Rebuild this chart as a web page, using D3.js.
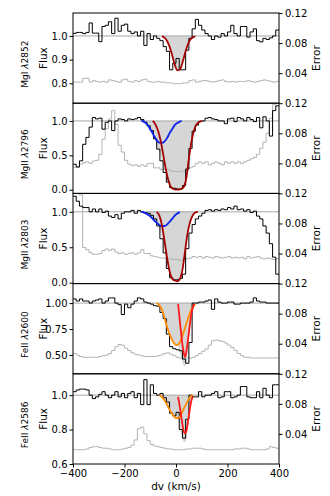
<!DOCTYPE html>
<html>
<head>
<meta charset="utf-8">
<script src="https://cdn.jsdelivr.net/npm/d3@7"></script>
<style>
  body { margin: 0; background: #fff; }
  text { font-family: "DejaVu Sans", sans-serif; }
</style>
</head>
<body>
<svg id="chart" width="330" height="496"></svg>
<script>
// velocity grid: 64 pixels of 12.5 km/s, bin centres
var vel = d3.range(64).map(function (i) { return -393.75 + 12.5 * i; });

var ions = ['MgI', 'MgII', 'MgII', 'FeII', 'FeII'];
var waves = ['2852', '2796', '2803', '2600', '2586'];

var flux2852 = [1.011,1.015,1.015,1.01,1.015,1.055,1.012,1.012,0.976,1.04,
  1.045,1.06,1.01,1.075,1.02,1.045,1.05,1.02,1.01,1.017,
  1.0,1.02,0.96,1.01,0.985,1.0,0.99,0.98,0.955,0.935,
  0.857,0.885,0.905,0.857,0.857,0.94,0.99,1.03,1.07,1.045,
  1.025,1.01,1.0,0.985,1.0,0.995,1.01,1.0,1.017,1.045,
  1.01,1.0,1.04,1.04,0.995,1.017,1.03,0.98,0.975,0.99,
  0.985,0.992,1.0,1.025];
var err2852 = [0.028,0.028,0.028,0.033,0.033,0.028,0.030,0.029,0.028,0.029,
  0.028,0.031,0.030,0.029,0.028,0.031,0.032,0.029,0.028,0.030,
  0.029,0.031,0.032,0.029,0.028,0.028,0.029,0.028,0.028,0.027,
  0.027,0.026,0.026,0.026,0.027,0.027,0.030,0.031,0.028,0.029,
  0.030,0.030,0.029,0.028,0.029,0.030,0.031,0.029,0.028,0.029,
  0.028,0.029,0.029,0.029,0.030,0.029,0.028,0.029,0.030,0.031,
  0.030,0.029,0.028,0.029];

var flux2796 = [0.37,0.33,0.42,0.66,0.76,0.91,1.05,1.03,1.04,0.88,
  0.98,1.0,0.86,1.0,1.03,1.02,1.0,1.03,1.02,1.03,
  1.05,1.02,0.98,0.93,0.86,0.74,0.59,0.42,0.25,0.11,
  0.03,0.02,0.01,0.01,0.06,0.30,0.60,0.85,0.94,0.99,
  1.0,1.04,1.05,1.03,1.02,1.0,1.0,0.96,1.03,1.04,
  0.99,1.05,1.03,1.0,1.05,1.02,0.99,1.05,0.9,1.06,
  1.0,0.78,1.15,1.22];
var err2796 = [0.035,0.035,0.039,0.041,0.042,0.040,0.043,0.044,0.052,0.072,
  0.086,0.099,0.110,0.092,0.064,0.055,0.044,0.039,0.037,0.038,
  0.036,0.038,0.036,0.040,0.040,0.034,0.034,0.032,0.032,0.032,
  0.030,0.029,0.029,0.029,0.030,0.032,0.034,0.036,0.040,0.042,
  0.040,0.042,0.038,0.040,0.042,0.040,0.038,0.042,0.040,0.042,
  0.040,0.042,0.040,0.042,0.044,0.046,0.048,0.052,0.060,0.068,
  0.080,0.100,0.118,0.130];

var flux2803 = [1.22,1.15,1.08,1.06,1.06,1.00,1.04,1.00,1.04,0.99,
  1.01,0.94,0.92,0.96,0.90,0.98,1.00,1.00,1.02,0.98,
  1.02,1.00,0.99,0.98,0.95,0.90,0.80,0.62,0.42,0.20,
  0.07,0.04,0.04,0.06,0.12,0.48,0.70,0.82,0.90,0.94,
  0.98,1.02,1.03,1.01,1.03,1.02,1.04,1.03,1.06,1.04,
  1.08,1.03,1.04,1.01,1.03,0.99,1.01,0.94,0.90,0.80,
  0.70,0.55,0.36,0.12];
var err2803 = [0.125,0.125,0.118,0.048,0.045,0.041,0.039,0.039,0.040,0.044,
  0.046,0.044,0.046,0.042,0.040,0.041,0.039,0.040,0.041,0.039,
  0.041,0.045,0.040,0.040,0.037,0.036,0.035,0.034,0.034,0.033,
  0.033,0.032,0.032,0.031,0.032,0.033,0.034,0.036,0.035,0.036,
  0.034,0.036,0.035,0.034,0.036,0.035,0.034,0.035,0.036,0.034,
  0.035,0.034,0.035,0.033,0.036,0.034,0.035,0.036,0.034,0.033,
  0.034,0.033,0.032,0.033];

var flux2600 = [1.04,1.02,1.04,1.02,1.02,1.0,1.02,1.03,1.04,1.0,
  1.02,1.05,1.05,1.0,0.985,0.89,0.99,0.955,0.99,1.02,
  1.05,1.04,1.01,1.0,0.99,0.975,0.97,0.91,0.85,0.70,
  0.58,0.56,0.55,0.54,0.46,0.42,0.62,1.0,1.0,1.01,
  1.01,1.02,1.03,0.94,1.04,1.01,1.0,1.0,1.01,1.01,
  0.99,0.99,1.0,1.0,1.0,1.01,1.05,1.02,1.01,1.01,
  1.0,1.0,1.0,1.0];
var err2600 = [0.027,0.025,0.023,0.022,0.022,0.022,0.022,0.022,0.023,0.024,
  0.025,0.027,0.031,0.036,0.039,0.038,0.034,0.031,0.028,0.026,
  0.025,0.024,0.023,0.023,0.023,0.023,0.024,0.025,0.027,0.028,
  0.026,0.024,0.022,0.021,0.021,0.021,0.021,0.022,0.024,0.027,
  0.030,0.033,0.038,0.044,0.045,0.044,0.043,0.041,0.038,0.035,
  0.031,0.027,0.024,0.022,0.022,0.021,0.021,0.021,0.021,0.021,
  0.021,0.021,0.021,0.021];

var flux2586 = [1.02,1.03,1.035,1.035,1.03,1.0,0.98,0.99,1.005,1.02,
  1.0,0.985,1.0,1.02,0.99,1.01,0.985,1.01,1.02,0.985,
  1.01,0.945,1.09,0.945,1.06,1.01,1.0,1.01,0.985,0.96,
  0.895,0.88,0.90,0.80,0.75,0.86,1.0,0.99,0.99,1.02,
  0.99,1.0,1.0,1.01,1.02,0.985,0.99,1.02,1.02,0.985,
  0.99,1.0,1.05,1.05,0.99,0.985,0.985,1.02,0.985,1.04,
  1.0,0.985,1.06,1.06];
var err2586 = [0.019,0.019,0.019,0.019,0.020,0.022,0.023,0.023,0.022,0.021,
  0.021,0.020,0.019,0.019,0.019,0.020,0.021,0.022,0.025,0.032,
  0.047,0.049,0.040,0.031,0.026,0.024,0.023,0.022,0.021,0.020,
  0.020,0.019,0.019,0.019,0.019,0.020,0.020,0.021,0.021,0.021,
  0.020,0.019,0.019,0.019,0.019,0.019,0.019,0.019,0.019,0.019,
  0.020,0.020,0.021,0.021,0.020,0.019,0.019,0.019,0.019,0.019,
  0.020,0.023,0.022,0.021];

// fitted components (velocity, normalised flux)
var mg1V = [-55,-45,-35,-25,-15,-5,5,15,25,35,45,55,65,75];
var mg1F = [0.998,0.993,0.980,0.955,0.919,0.880,0.855,0.858,0.887,0.927,0.961,0.984,0.994,0.998];

var mg2BlueV = [-135,-125,-115,-105,-95,-85,-75,-65,-55,-45,-35,-25,-15,-5,5,15,22];
var mg2BlueF = [1.0,0.99,0.96,0.91,0.85,0.78,0.72,0.685,0.68,0.70,0.75,0.82,0.88,0.94,0.97,0.99,1.0];
var mg2RedV = [-90,-80,-70,-60,-50,-40,-30,-20,-10,0,10,20,30,40,50,60,70,80,90,100];
var mg2RedF = [1.0,0.95,0.86,0.72,0.52,0.31,0.14,0.04,0.01,0.0,0.0,0.01,0.04,0.17,0.45,0.70,0.86,0.95,0.985,1.0];
var mg2TotV = [-140,-130,-120,-110,-100,-90,-80,-70,-60,-50,-40,-30,-20,-10,0,10,20,30,40,50,60,70,80,90,100];
var mg2TotF = [1.0,0.995,0.975,0.94,0.88,0.815,0.71,0.60,0.49,0.36,0.22,0.11,0.03,0.01,0.0,0.0,0.01,0.04,0.17,0.45,0.70,0.86,0.95,0.985,1.0];

var mg3BlueV = [-135,-125,-115,-105,-95,-85,-75,-65,-55,-45,-35,-25,-15,-5,5,15];
var mg3BlueF = [1.0,0.99,0.975,0.95,0.92,0.88,0.845,0.815,0.80,0.80,0.82,0.86,0.90,0.945,0.975,0.995];
var mg3RedV = [-75,-65,-55,-45,-35,-25,-15,-5,5,15,25,35,45,55,65,75,85];
var mg3RedF = [1.0,0.95,0.82,0.60,0.36,0.16,0.06,0.03,0.02,0.05,0.18,0.44,0.70,0.86,0.95,0.99,1.0];
var mg3TotV = [-140,-130,-120,-110,-100,-90,-80,-70,-60,-50,-40,-30,-20,-10,0,10,20,30,40,50,60,70,80,90];
var mg3TotF = [1.0,0.995,0.985,0.965,0.935,0.90,0.86,0.81,0.72,0.57,0.39,0.22,0.09,0.04,0.024,0.03,0.10,0.30,0.58,0.78,0.91,0.97,0.995,1.0];

var fe1OrV = [-75,-65,-55,-45,-35,-25,-15,-5,5,15,25,35,45,55,65,75];
var fe1OrF = [1.0,0.98,0.94,0.86,0.775,0.70,0.645,0.605,0.595,0.62,0.685,0.76,0.84,0.91,0.96,0.99];
var fe1RedV = [8,12,16,20,24,28,32,35,38,42,46,50,54,58,62,66,70];
var fe1RedF = [0.99,0.90,0.80,0.71,0.62,0.55,0.50,0.48,0.50,0.56,0.64,0.72,0.80,0.87,0.93,0.96,0.99];
var fe1TotV = [-80,-75,-70,-65,-60,-55,-50,-45,-40,-35,-30,-25,-20,-15,-10,-5,0,5,10,15,20,25,30,35,40,45,50,55,60,65,70,75,80];
var fe1TotF = [1.0,1.0,0.99,0.98,0.97,0.94,0.90,0.86,0.82,0.775,0.73,0.70,0.67,0.645,0.62,0.605,0.595,0.595,0.57,0.52,0.47,0.43,0.40,0.39,0.43,0.52,0.63,0.74,0.84,0.91,0.96,0.99,1.0];

var fe2OrV = [-65,-55,-45,-35,-25,-15,-5,5,15,25,35,45,55,65];
var fe2OrF = [1.0,0.99,0.97,0.945,0.915,0.89,0.872,0.866,0.875,0.905,0.935,0.965,0.99,1.0];
var fe2RedV = [8,15,20,25,30,35,40,45,50,55,60,65];
var fe2RedF = [0.99,0.93,0.88,0.83,0.79,0.778,0.79,0.83,0.88,0.93,0.97,0.99];
var fe2TotV = [-65,-60,-55,-50,-45,-40,-35,-30,-25,-20,-15,-10,-5,0,5,10,15,20,25,30,35,40,45,50,55,60,65,70];
var fe2TotF = [1.0,0.995,0.99,0.98,0.97,0.957,0.945,0.93,0.915,0.90,0.89,0.88,0.872,0.868,0.866,0.85,0.81,0.78,0.75,0.73,0.727,0.75,0.80,0.86,0.92,0.97,0.99,1.0];

var fluxTicks = [[0.8,0.9,1.0],[0.0,0.5,1.0],[0.0,0.5,1.0],[0.5,0.75,1.0],[0.6,0.8,1.0]];
var errTicks = [0.04, 0.08, 0.12];
var velTicks = [-400, -200, 0, 200, 400];

var panels = [
  {flux: flux2852, err: err2852, dom: [0.716, 1.097], fmt: '.1f', totV: mg1V, totF: mg1F,
    comps: [{v: mg1V, f: mg1F, color: '#a50000'}]},
  {flux: flux2796, err: err2796, dom: [-0.054, 1.258], fmt: '.1f', totV: mg2TotV, totF: mg2TotF,
    comps: [{v: mg2BlueV, f: mg2BlueF, color: '#0a22ee'}, {v: mg2RedV, f: mg2RedF, color: '#a50000'}]},
  {flux: flux2803, err: err2803, dom: [-0.013, 1.26], fmt: '.1f', totV: mg3TotV, totF: mg3TotF,
    comps: [{v: mg3BlueV, f: mg3BlueF, color: '#0a22ee'}, {v: mg3RedV, f: mg3RedF, color: '#a50000'}]},
  {flux: flux2600, err: err2600, dom: [0.318, 1.188], fmt: '.2f', totV: fe1TotV, totF: fe1TotF,
    comps: [{v: fe1OrV, f: fe1OrF, color: '#ff8c00'}, {v: fe1RedV, f: fe1RedF, color: '#ff1a1a'}]},
  {flux: flux2586, err: err2586, dom: [0.6, 1.124], fmt: '.1f', totV: fe2TotV, totF: fe2TotF,
    comps: [{v: fe2OrV, f: fe2OrF, color: '#ff8c00'}, {v: fe2RedV, f: fe2RedF, color: '#ff1a1a'}]}
];

var svg = d3.select('#chart');
var left = 73, right = 279, top0 = 13, ph = 90.2;

var x = d3.scaleLinear().domain([-400, 400]).range([left, right]);

// step points with the outer half bins added
function stepPts(vals) {
  var pts = vals.map(function (d, i) { return [vel[i], d]; });
  pts.unshift([-400, vals[0]]);
  pts.push([400, vals[vals.length - 1]]);
  return pts;
}

panels.forEach(function (p, k) {
  var top = top0 + k * ph, bot = top + ph;
  var y = d3.scaleLinear().domain(p.dom).range([bot, top]);
  var ye = d3.scaleLinear().domain([0, 0.12]).range([bot, top]);

  svg.append('clipPath').attr('id', 'clip' + k)
    .append('rect').attr('x', left).attr('y', top).attr('width', right - left).attr('height', ph);

  var g = svg.append('g').attr('clip-path', 'url(#clip' + k + ')');

  // absorption area between continuum and total model
  var area = d3.area()
    .x(function (d, i) { return x(p.totV[i]); })
    .y0(y(1))
    .y1(function (d) { return y(d); })
    .curve(d3.curveMonotoneX);
  g.append('path').datum(p.totF).attr('d', area).attr('fill', '#d6d6d6');

  // error spectrum
  var stepLine = function (sc) {
    return d3.line().x(function (d) { return x(d[0]); }).y(function (d) { return sc(d[1]); }).curve(d3.curveStep);
  };
  g.append('path').datum(stepPts(p.err)).attr('d', stepLine(ye))
    .attr('fill', 'none').attr('stroke', '#b3b3b3').attr('stroke-width', 1);

  // continuum
  g.append('line').attr('x1', x(-400)).attr('x2', x(400)).attr('y1', y(1)).attr('y2', y(1))
    .attr('stroke', '#a6a6a6').attr('stroke-width', 1);

  // flux
  g.append('path').datum(stepPts(p.flux)).attr('d', stepLine(y))
    .attr('fill', 'none').attr('stroke', '#000').attr('stroke-width', 1);

  // components
  p.comps.forEach(function (c) {
    var line = d3.line()
      .x(function (d, i) { return x(c.v[i]); })
      .y(function (d) { return y(d); })
      .curve(d3.curveMonotoneX);
    g.append('path').datum(c.f).attr('d', line)
      .attr('fill', 'none').attr('stroke', c.color).attr('stroke-width', 1.8);
  });

  // frame
  svg.append('rect').attr('x', left).attr('y', top).attr('width', right - left).attr('height', ph)
    .attr('fill', 'none').attr('stroke', '#000').attr('stroke-width', 1);

  var ax = svg.append('g').attr('transform', 'translate(' + left + ',0)')
    .call(d3.axisLeft(y).tickValues(fluxTicks[k]).tickFormat(d3.format(p.fmt)).tickSize(3.5).tickPadding(2));
  ax.select('.domain').remove();
  ax.selectAll('text').attr('font-size', 10).attr('font-family', '"DejaVu Sans", sans-serif').attr('fill', '#000');

  var ar = svg.append('g').attr('transform', 'translate(' + right + ',0)')
    .call(d3.axisRight(ye).tickValues(errTicks).tickFormat(d3.format('.2f')).tickSize(3.5).tickPadding(2.5));
  ar.select('.domain').remove();
  ar.selectAll('text').attr('font-size', 10).attr('font-family', '"DejaVu Sans", sans-serif').attr('fill', '#000');

  var mid = top + ph / 2;
  var ion = svg.append('text')
    .attr('transform', 'translate(25,' + (mid + 6) + ') rotate(-90)')
    .attr('dy', '0.35em').attr('text-anchor', 'middle').attr('font-size', 9);
  ion.append('tspan').text(ions[k] + ' ');
  ion.append('tspan').attr('font-style', 'italic').text('λ');
  ion.append('tspan').text(waves[k]);

  svg.append('text')
    .attr('transform', 'translate(43.5,' + mid + ') rotate(-90)')
    .attr('dy', '0.35em').attr('text-anchor', 'middle').attr('font-size', 10.5)
    .text('Flux');

  svg.append('text')
    .attr('transform', 'translate(316,' + mid + ') rotate(-90)')
    .attr('dy', '0.35em').attr('text-anchor', 'middle').attr('font-size', 10.5)
    .text('Error');

  if (k === panels.length - 1) {
    var axb = svg.append('g').attr('transform', 'translate(0,' + bot + ')')
      .call(d3.axisBottom(x).tickValues(velTicks).tickFormat(d3.format('d')).tickSize(3.5).tickPadding(2.5));
    axb.select('.domain').remove();
    axb.selectAll('text').attr('font-size', 10).attr('font-family', '"DejaVu Sans", sans-serif').attr('fill', '#000');

    svg.append('text')
      .attr('x', x(0)).attr('y', 490)
      .attr('text-anchor', 'middle').attr('font-size', 10.5)
      .text('dv (km/s)');
  }
});
</script>
</body>
</html>
